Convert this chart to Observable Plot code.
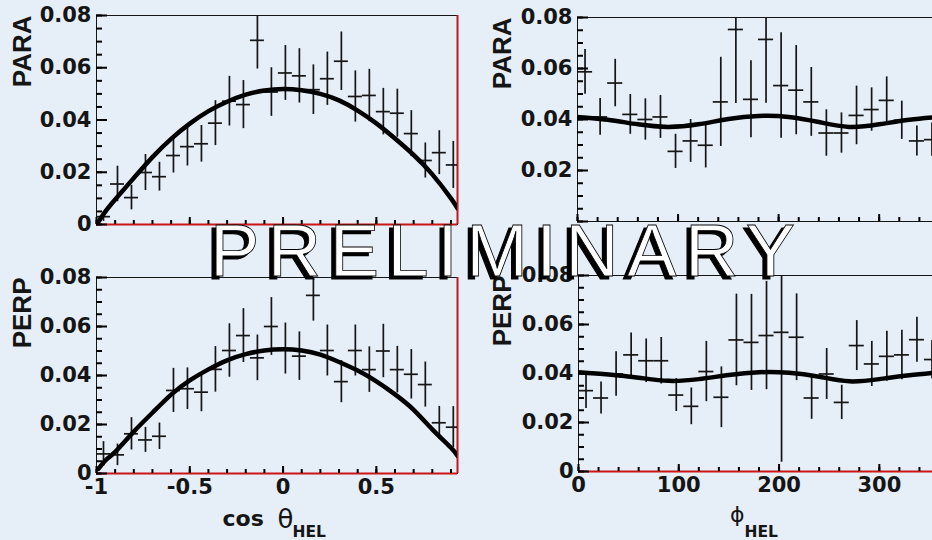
<!DOCTYPE html>
<html>
<head>
<meta charset="utf-8">
<script src="https://cdn.jsdelivr.net/npm/d3@7"></script>
<script src="https://cdn.jsdelivr.net/npm/@observablehq/plot@0.6"></script>
<style>
  html, body { margin: 0; padding: 0; background: #e6eef8; }
  #stage { position: relative; width: 932px; height: 540px; overflow: hidden; background: #e6eef8; }
  .panel { position: absolute; }
  .panel svg { display: block; }
  #stamp { position: absolute; left: 0; top: 0; pointer-events: none; }
</style>
</head>
<body>
<div id="stage"></div>
<script>
// ---- bin centres ----
const cosBins = [-0.9625, -0.8875, -0.8125, -0.7375, -0.6625, -0.5875, -0.5125, -0.4375, -0.3625,
  -0.2875, -0.2125, -0.1375, -0.0625, 0.0125, 0.0875, 0.1625, 0.2375, 0.3125, 0.3875, 0.4625,
  0.5375, 0.6125, 0.6875, 0.7625, 0.8375, 0.9125];
const phiBins = [7.5, 22.5, 37.5, 52.5, 67.5, 82.5, 97.5, 112.5, 127.5, 142.5, 157.5, 172.5,
  187.5, 202.5, 217.5, 232.5, 247.5, 262.5, 277.5, 292.5, 307.5, 322.5, 337.5, 352.5];

// ---- PARA vs cos(theta_HEL) ----
const paraCos = [0.003, 0.0155, 0.0103, 0.0199, 0.0183, 0.0264, 0.0298, 0.0309, 0.0388, 0.0472,
  0.0459, 0.0705, 0.0507, 0.058, 0.0569, 0.0516, 0.0558, 0.0625, 0.049, 0.0494, 0.0432, 0.0426,
  0.0348, 0.0245, 0.0275, 0.0228];
const paraCosErr = [0.0018, 0.0068, 0.0047, 0.0069, 0.0055, 0.0067, 0.0074, 0.007, 0.0086, 0.0095,
  0.0092, 0.011, 0.0093, 0.0105, 0.0104, 0.0095, 0.0102, 0.0112, 0.0098, 0.01, 0.0089, 0.0092,
  0.0088, 0.0067, 0.0084, 0.009];

// ---- PERP vs cos(theta_HEL) ----
const perpCos = [0.008, 0.0076, 0.0162, 0.0137, 0.0152, 0.0339, 0.0346, 0.0332, 0.0425, 0.0502,
  0.0563, 0.0472, 0.06, 0.051, 0.0479, 0.0727, 0.0502, 0.0375, 0.0502, 0.0424, 0.05, 0.0424,
  0.0405, 0.0363, 0.0207, 0.0189];
const perpCosErr = [0.005, 0.0044, 0.0066, 0.0051, 0.0054, 0.009, 0.0085, 0.008, 0.0093, 0.0109,
  0.011, 0.0093, 0.0118, 0.0104, 0.0099, 0.0105, 0.0104, 0.0086, 0.0104, 0.0093, 0.0109, 0.0095,
  0.0101, 0.0092, 0.0067, 0.0084];

// ---- PARA vs phi_HEL ----
const paraPhi = [0.0587, 0.041, 0.0543, 0.042, 0.04, 0.041, 0.0275, 0.0316, 0.0299, 0.0469,
  0.0753, 0.0479, 0.0714, 0.0533, 0.0515, 0.0469, 0.0347, 0.0347, 0.0416, 0.0439, 0.0475,
  0.0397, 0.0316, 0.0321];
const paraPhiErr = [0.0088, 0.0072, 0.0093, 0.0078, 0.0081, 0.0084, 0.0067, 0.0084, 0.0089,
  0.0175, 0.029, 0.0151, 0.025, 0.0207, 0.0175, 0.0135, 0.0091, 0.0079, 0.0115, 0.0085, 0.0092,
  0.0075, 0.0059, 0.0065];

// ---- PERP vs phi_HEL ----
const perpPhi = [0.033, 0.03, 0.0398, 0.0476, 0.0452, 0.0452, 0.0312, 0.0266, 0.0408, 0.0303,
  0.0537, 0.0527, 0.0555, 0.0568, 0.0548, 0.03, 0.0398, 0.0282, 0.0514, 0.0439, 0.047, 0.0476,
  0.0538, 0.0457];
const perpPhiErr = [0.0073, 0.0065, 0.0091, 0.0089, 0.0089, 0.0095, 0.0067, 0.0075, 0.0123,
  0.0124, 0.0187, 0.0196, 0.0221, 0.053, 0.0177, 0.0087, 0.0104, 0.007, 0.0102, 0.0092, 0.0102,
  0.0101, 0.0092, 0.0078];

// ---- fitted curves ----
const cosFitX = [-0.99, -0.95, -0.9, -0.8, -0.7, -0.6, -0.5, -0.4, -0.3, -0.2, -0.1, 0, 0.1, 0.2,
  0.3, 0.4, 0.5, 0.6, 0.7, 0.8, 0.9, 0.935];
const paraCosFit = [0.001, 0.0052, 0.0096, 0.0178, 0.0258, 0.0328, 0.0386, 0.0434, 0.047, 0.0497,
  0.0513, 0.0519, 0.0514, 0.05, 0.0475, 0.0436, 0.0387, 0.0329, 0.0266, 0.0192, 0.01, 0.0062];
const perpCosFit = [0.0019, 0.0055, 0.0088, 0.0171, 0.0248, 0.0322, 0.038, 0.0425, 0.0462, 0.0487,
  0.0502, 0.0507, 0.0502, 0.0485, 0.0455, 0.042, 0.0376, 0.0323, 0.026, 0.018, 0.0105, 0.0072];
const phiFitX = [0, 30, 60, 90, 120, 150, 180, 210, 240, 270, 300, 330, 360];
const paraPhiFit = [0.041, 0.0399, 0.0381, 0.0371, 0.0381, 0.0402, 0.0414, 0.041, 0.039, 0.0371,
  0.0381, 0.0399, 0.041];
const perpPhiFit = [0.0405, 0.0396, 0.0383, 0.037, 0.0377, 0.0394, 0.0405, 0.0403, 0.0387, 0.0368,
  0.0377, 0.0393, 0.0405];

// ---- tick labels ----
const yTicks = [0, 0.02, 0.04, 0.06, 0.08];
const yTickText = ["0", "0.02", "0.04", "0.06", "0.08"];
const cosTicks = [-1, -0.5, 0, 0.5];
const cosTickText = ["-1", "-0.5", "0", "0.5"];
const phiTicks = [0, 100, 200, 300];
const phiTickText = ["0", "100", "200", "300"];

const yMinor = d3.range(0, 17).map(i => i * 0.005);
const cosMinor = d3.range(0, 20).map(i => -1 + i * 0.1);
const phiMinor = d3.range(0, 19).map(i => i * 20);

const INK = "#151515";
const RED = "#cc1515";
const SANS = "'Liberation Sans', Arial, sans-serif";
const TICKFONT = "'DejaVu Sans', sans-serif";

function label(ticks, texts) {
  return d => texts[ticks.findIndex(t => Math.abs(t - d) < 1e-9)];
}

function panel(cfg) {
  const rows = cfg.centers.map((c, i) => ({x: c, v: cfg.values[i], e: cfg.errors[i]}));
  const fit = cfg.fitX.map((x, i) => ({x, y: cfg.fitY[i]}));
  const [mt, mr, mb, ml] = cfg.margin;
  const fw = cfg.width - ml - mr;   // frame width in px
  const fh = cfg.height - mt - mb;  // frame height in px
  const marks = [
    Plot.frame({stroke: INK, strokeWidth: 1}),
    cfg.redBottom ? Plot.ruleY([0], {stroke: RED, strokeWidth: 2}) : null,
    Plot.ruleX([cfg.xDomain[1]], {stroke: RED, strokeWidth: 2}),
    Plot.axisY(cfg.yLabelTicks, {
      tickSize: 0, tickPadding: 5, stroke: "none", fill: INK, label: null,
      tickFormat: label(yTicks, yTickText),
      fontSize: 21, fontWeight: "bold", fontFamily: TICKFONT
    }),
    Plot.ruleX(rows, {x: "x", y1: d => d.v - d.e, y2: d => d.v + d.e, stroke: INK, strokeWidth: 1.7, clip: true}),
    Plot.ruleY(rows, {y: "v", x1: d => d.x - cfg.half, x2: d => d.x + cfg.half, stroke: INK, strokeWidth: 1.7, clip: true}),
    Plot.line(fit, {x: "x", y: "y", stroke: "#000", strokeWidth: 4.5, curve: "natural", clip: true}),
    Plot.text([cfg.yTitle], {
      text: d => d, frameAnchor: "top-left", rotate: -90, textAnchor: "end", lineAnchor: "middle",
      dx: cfg.yTitleDx, fontSize: 26, fontWeight: "bold", fontFamily: SANS, fill: INK
    })
  ];
  // short tick marks reaching into the frame from its left / bottom edge;
  // their lengths are converted from pixels to data units
  const xPer = (cfg.xDomain[1] - cfg.xDomain[0]) / fw;
  const yPer = 0.08 / fh;
  const x0 = cfg.xDomain[0];
  marks.push(
    Plot.ruleY(yMinor, {y: d => d, x1: () => x0, x2: () => x0 + 6 * xPer, stroke: "#000", strokeWidth: 2}),
    Plot.ruleY(yTicks, {y: d => d, x1: () => x0, x2: () => x0 + 11 * xPer, stroke: "#000", strokeWidth: 2}),
    Plot.ruleX(cfg.xMinor, {x: d => d, y1: () => 0, y2: () => 4 * yPer, stroke: "#000", strokeWidth: 2}),
    Plot.ruleX(cfg.xMajor, {x: d => d, y1: () => 0, y2: () => 7 * yPer, stroke: "#000", strokeWidth: 2})
  );
  if (cfg.xTickText) {
    marks.push(Plot.axisX(cfg.xMajor, {
      tickSize: 0, tickPadding: 6, stroke: "none", fill: INK, label: null,
      tickFormat: label(cfg.xMajor, cfg.xTickText),
      fontSize: 21, fontWeight: "bold", fontFamily: TICKFONT
    }));
  } else {
    marks.push(Plot.axisX([], {label: null}));
  }
  for (const part of cfg.xTitle || []) {
    marks.push(Plot.text([part.text], {
      text: d => d, frameAnchor: "bottom", textAnchor: "start", lineAnchor: "middle",
      dx: part.dx, dy: part.dy, fontSize: part.size, fontWeight: part.weight,
      fontFamily: part.family, fill: INK
    }));
  }
  const svg = Plot.plot({
    width: cfg.width, height: cfg.height,
    marginTop: mt, marginRight: mr, marginBottom: mb, marginLeft: ml,
    x: {domain: cfg.xDomain},
    y: {domain: [0, 0.08]},
    style: {background: "transparent", maxWidth: "none", fontFamily: TICKFONT, color: INK},
    marks
  });
  const div = document.createElement("div");
  div.className = "panel";
  div.style.left = cfg.left + "px";
  div.style.top = cfg.top + "px";
  div.style.width = cfg.width + "px";
  div.appendChild(svg);
  document.getElementById("stage").appendChild(div);
}

const common = {yLabelTicks: yTicks};

// PARA, cos theta
panel({...common, left: 0, top: 0, width: 466, height: 250, margin: [15, 9, 26, 96],
  xDomain: [-1, 0.935], xMinor: cosMinor, xMajor: cosTicks, half: 0.0375, redBottom: true,
  centers: cosBins, values: paraCos, errors: paraCosErr, fitX: cosFitX, fitY: paraCosFit,
  yTitle: "PARA", yTitleDx: -74});

// PERP, cos theta
panel({...common, left: 0, top: 250, width: 466, height: 290, margin: [27, 9, 67, 96],
  xDomain: [-1, 0.935], xMinor: cosMinor, xMajor: cosTicks, xTickText: cosTickText, half: 0.0375,
  redBottom: true,
  centers: cosBins, values: perpCos, errors: perpCosErr, fitX: cosFitX, fitY: perpCosFit,
  yTitle: "PERP", yTitleDx: -74,
  xTitle: [
    {text: "cos", dx: -54.5, dy: 45, size: 22, weight: "bold", family: TICKFONT},
    {text: "θ", dx: 0.5, dy: 46, size: 26, weight: "normal", family: TICKFONT},
    {text: "HEL", dx: 15.5, dy: 59, size: 15.5, weight: "bold", family: TICKFONT}
  ]});

// PARA, phi
panel({left: 466, top: 0, width: 480, height: 250, margin: [17, 7, 29, 111],
  yLabelTicks: [0.02, 0.04, 0.06, 0.08], redBottom: false,
  xDomain: [0, 360], xMinor: phiMinor, xMajor: phiTicks, half: 7.5,
  centers: phiBins, values: paraPhi, errors: paraPhiErr, fitX: phiFitX, fitY: paraPhiFit,
  yTitle: "PARA", yTitleDx: -75});

// PERP, phi
panel({...common, left: 466, top: 250, width: 480, height: 290, margin: [25, 7, 69, 112],
  xDomain: [0, 360], xMinor: phiMinor, xMajor: phiTicks, xTickText: phiTickText, half: 7.5,
  redBottom: true,
  centers: phiBins, values: perpPhi, errors: perpPhiErr, fitX: phiFitX, fitY: perpPhiFit,
  yTitle: "PERP", yTitleDx: -76,
  xTitle: [
    {text: "ϕ", dx: -29, dy: 43, size: 22, weight: "normal", family: TICKFONT},
    {text: "HEL", dx: -14.5, dy: 61, size: 15.5, weight: "bold", family: TICKFONT}
  ]});

// "PRELIMINARY" stamp across the panels: dark drop shadow under a white face
const stampWord = "PRELIMINARY";
const stamp = d3.select("#stage").append("svg")
  .attr("id", "stamp").attr("width", 932).attr("height", 540);
stamp.append("text")
  .attr("x", 206).attr("y", 279)
  .attr("textLength", 585).attr("lengthAdjust", "spacing")
  .attr("font-family", SANS).attr("font-size", 74)
  .attr("fill", "#000").attr("stroke", "#000").attr("stroke-width", 1.2)
  .text(stampWord);
stamp.append("text")
  .attr("x", 210).attr("y", 276)
  .attr("textLength", 585).attr("lengthAdjust", "spacing")
  .attr("font-family", SANS).attr("font-size", 74)
  .attr("fill", "#ffffff").attr("stroke", "#000").attr("stroke-width", 0.8)
  .text(stampWord);
</script>
</body>
</html>
